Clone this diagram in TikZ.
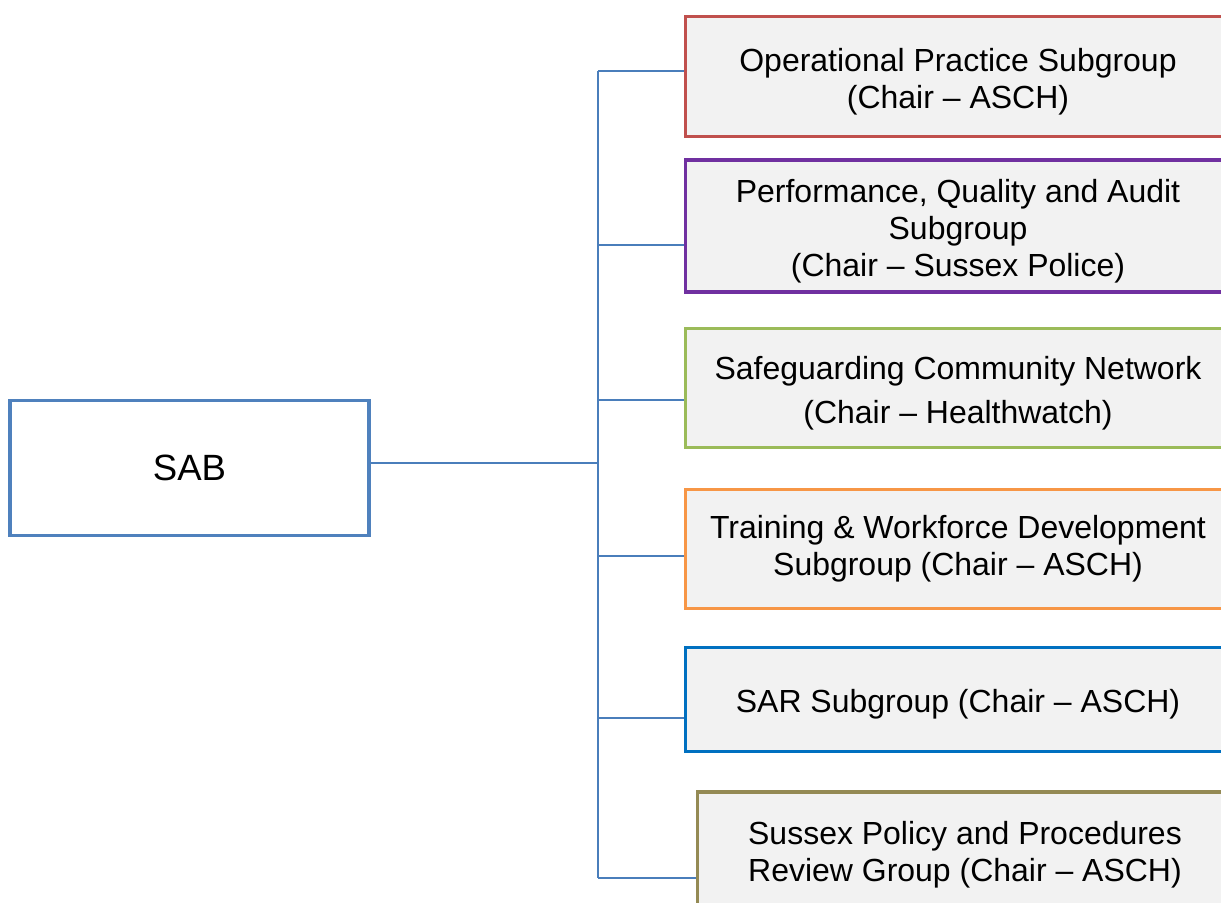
\documentclass[tikz,border=0pt]{standalone}
\usepackage{fontspec}
\setmainfont{Liberation Sans}
\usetikzlibrary{positioning,calc}

\definecolor{sabblue}{HTML}{4F81BD}
\definecolor{linkblue}{HTML}{4A7EBB}
\definecolor{boxgrey}{HTML}{F2F2F2}
\definecolor{opred}{HTML}{C0504D}
\definecolor{pqapurple}{HTML}{7030A0}
\definecolor{scngreen}{HTML}{9BBB59}
\definecolor{twdorange}{HTML}{F79646}
\definecolor{sarblue}{HTML}{0070C0}
\definecolor{sppolive}{HTML}{948A54}

% extra room above the first line of a box
\newcommand{\headroom}{\rule{0pt}{0.66cm}}

\begin{document}
\begin{tikzpicture}[
    x=0.02cm, y=-0.02cm,
    board/.style={rectangle, draw=sabblue, line width=2.2pt, fill=white, minimum width=7.18cm, minimum height=2.7cm, font=\fontsize{20.8}{24}\selectfont},
    group/.style={rectangle, draw, line width=2.2pt, fill=boxgrey, minimum width=10.9cm, align=center, inner sep=0pt, font=\fontsize{18.2}{21}\selectfont},
    link/.style={draw=linkblue, line width=0.8pt}
]
\useasboundingbox (0,0) rectangle (1221,903);

% Board on the left
\node[board] (sab) at (189.5,468) {SAB};

% Subgroups down the right-hand side
\node[group, draw=opred, minimum height=2.4cm] (opsub) at (958,76.5) {\headroom Operational Practice Subgroup\\(Chair -- ASCH)};
\node[group, draw=pqapurple, minimum height=2.64cm] (pqasub) at (958,226) {\headroom Performance, Quality and Audit\\Subgroup\\(Chair -- Sussex Police)};
\node[group, draw=scngreen, minimum height=2.38cm] (scnsub) at (958,388) {\headroom Safeguarding Community Network\\[0.14cm](Chair -- Healthwatch)};
\node[group, draw=twdorange, minimum height=2.38cm] (twdsub) at (958,549) {Training \& Workforce Development\\Subgroup (Chair -- ASCH)};
\node[group, draw=sarblue, minimum height=2.08cm] (sarsub) at (958,699.5) {\headroom SAR Subgroup (Chair -- ASCH)};
\node[group, draw=sppolive, minimum height=2.32cm, minimum width=10.7cm] (sppsub) at (965,850) {\headroom Sussex Policy and Procedures\\Review Group (Chair -- ASCH)};

% Tree connectors: one branch per subgroup off a shared trunk
\coordinate (trunk) at (598,463);
\draw[link] (sab.east |- trunk) -- (trunk);
\foreach \sub/\yb [count=\i] in {opsub/71, pqasub/245, scnsub/400, twdsub/556, sarsub/718, sppsub/878} {
    \coordinate (br\i) at (598,\yb);
    \draw[link] (br\i) -- (br\i -| \sub.west);
}
\draw[link] (br1) -- (br6);

\end{tikzpicture}
\end{document}
